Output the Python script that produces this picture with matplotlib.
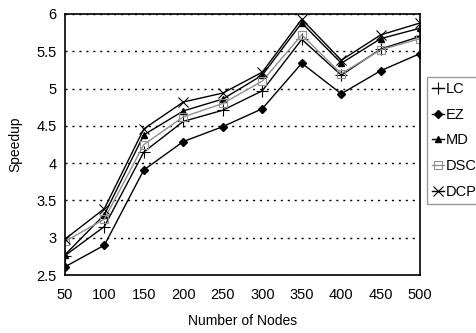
import matplotlib
matplotlib.use('Agg')
import matplotlib.pyplot as plt

plt.rcParams['font.family'] = ['Liberation Sans', 'DejaVu Sans']

nodes = [50, 100, 150, 200, 250, 300, 350, 400, 450, 500]
lc = [2.76, 3.15, 4.15, 4.56, 4.71, 4.97, 5.66, 5.18, 5.53, 5.70]
ez = [2.61, 2.90, 3.91, 4.29, 4.49, 4.73, 5.34, 4.93, 5.24, 5.47]
md = [2.77, 3.31, 4.38, 4.70, 4.86, 5.18, 5.88, 5.34, 5.67, 5.81]
dsc = [2.95, 3.25, 4.25, 4.62, 4.80, 5.10, 5.72, 5.20, 5.52, 5.67]
dcp = [2.98, 3.39, 4.46, 4.82, 4.94, 5.22, 5.93, 5.38, 5.72, 5.88]

fig = plt.figure(figsize=(4.77, 3.33), dpi=100)
ax = fig.add_axes([0.136, 0.174, 0.745, 0.784])

ax.plot(nodes, lc, color='black', lw=1, marker='+', ms=8, mew=0.8, label='LC')
ax.plot(nodes, ez, color='black', lw=1, marker='D', ms=4, label='EZ')
ax.plot(nodes, md, color='black', lw=1, marker='^', ms=5, label='MD')
ax.plot(nodes, dsc, color='#909090', lw=1, marker='s', ms=6, mfc='none', mew=0.8, label='DSC')
ax.plot(nodes, dcp, color='black', lw=1, marker='x', ms=7, mew=0.8, label='DCP')

ax.set_xlim(50, 500)
ax.set_ylim(2.5, 6)
ax.set_xticks(nodes)
ax.set_yticks([2.5, 3, 3.5, 4, 4.5, 5, 5.5, 6])
ax.set_yticklabels(['2.5', '3', '3.5', '4', '4.5', '5', '5.5', '6'])
ax.tick_params(length=0, labelsize=10.5)
ax.tick_params(axis='x', pad=9)
ax.tick_params(axis='y', pad=6)
ax.yaxis.grid(True, linestyle=(0, (1.5, 3.5)), color='black', lw=1)
for s in ax.spines.values():
    s.set_linewidth(1.2)

ax.set_xlabel('Number of Nodes', fontsize=10, labelpad=9)
ax.set_ylabel('Speedup', fontsize=10, labelpad=10)

# legend sits to the right of the plot, right against the figure edge
leg = fig.legend(loc='upper left', bbox_to_anchor=(0.895, 0.769), frameon=True, fancybox=False,
                 edgecolor='#808080', handlelength=0.8, handletextpad=0.15,
                 labelspacing=0.8, borderpad=0.35, borderaxespad=0,
                 prop={'size': 10.5})
leg.get_frame().set_linewidth(1)

fig.savefig('out.png', dpi=100)
